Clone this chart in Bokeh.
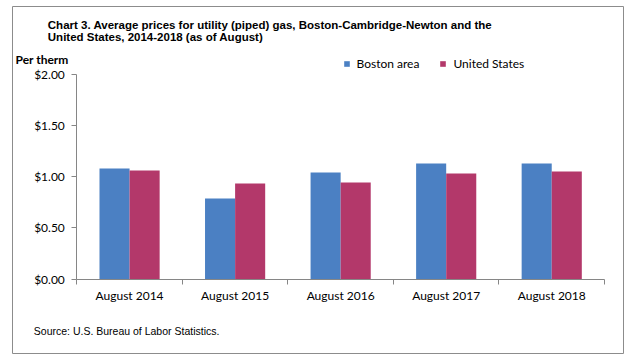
import numpy as np
from bokeh.plotting import figure
from bokeh.models import (Range1d, FixedTicker, NumeralTickFormatter, LinearAxis,
                          Label, Legend, LegendItem)
from bokeh.embed import file_html
from bokeh.resources import INLINE

# ---- data ----
categories = ["August 2014", "August 2015", "August 2016", "August 2017", "August 2018"]
series_names = ["Boston area", "United States"]
boston = [1.080, 0.787, 1.041, 1.129, 1.129]
united_states = [1.061, 0.934, 0.943, 1.031, 1.051]
y_ticks = [0.0, 0.5, 1.0, 1.5, 2.0]
y_max_value = 2.0

title_lines = ["Chart 3. Average prices for utility (piped) gas, Boston-Cambridge-Newton and the",
               "United States, 2014-2018 (as of August)"]
y_unit = "Per therm"
source = "Source: U.S. Bureau of Labor Statistics."

BLUE = "#4b80c3"
RED = "#b3386a"
AXIS = "#868686"
BORDER = "#8c8c8c"
FONT = "Lato"

n = len(categories)
centers = np.arange(n) + 0.5
bw = 0.285

# ---- layout (pixels, relative to the canvas) ----
W, H = 634, 355
FL, FT = 12, 6           # frame (outer chart box) left/top inside canvas
FW, FH = 611, 347        # frame size
# inner chart area inside frame (pixels from frame left / top)
AX_L, AX_R = 64.3, 592.0
AX_T, AX_B = 68.0, 272.5

xs = (AX_R - AX_L) / n
ys = (AX_B - AX_T) / y_max_value
x_range = Range1d(-AX_L / xs, n + (FW - AX_R) / xs)
y_range = Range1d(-(FH - AX_B) / ys, y_max_value + AX_T / ys)

p = figure(width=W, height=H, frame_width=FW, frame_height=FH,
           min_border_left=FL, min_border_top=FT,
           min_border_right=W - FL - FW, min_border_bottom=H - FT - FH,
           x_range=x_range, y_range=y_range,
           output_backend="svg", toolbar_location=None, x_axis_type=None, y_axis_type=None)
p.outline_line_color = BORDER
p.outline_line_width = 1
p.background_fill_color = "white"
p.border_fill_color = "white"
p.xgrid.visible = False
p.ygrid.visible = False

r1 = p.vbar(x=centers - bw / 2, top=boston, width=bw, fill_color=BLUE, line_color=None)
r2 = p.vbar(x=centers + bw / 2, top=united_states, width=bw, fill_color=RED, line_color=None)

# y axis
yax = LinearAxis(ticker=FixedTicker(ticks=y_ticks), formatter=NumeralTickFormatter(format="$0.00"),
                 fixed_location=0, bounds=(0, y_max_value))
yax.axis_line_color = AXIS
yax.major_tick_line_color = AXIS
yax.major_tick_out = 5
yax.major_tick_in = 0
yax.minor_tick_line_color = None
yax.major_label_standoff = 7
yax.major_label_text_font = FONT
yax.major_label_text_font_size = "12px"
yax.major_label_text_color = "black"
p.add_layout(yax, "left")

# x axis: boundary ticks as minor ticks, labels at centers
xax = LinearAxis(ticker=FixedTicker(ticks=list(centers), minor_ticks=list(np.arange(n + 1))),
                 fixed_location=0, bounds=(0, n))
xax.major_label_overrides = {float(c): cat for c, cat in zip(centers, categories)}
xax.axis_line_color = AXIS
xax.major_tick_line_color = None
xax.major_tick_out = 0
xax.major_tick_in = 0
xax.minor_tick_line_color = AXIS
xax.minor_tick_out = 5
xax.minor_tick_in = 0
xax.major_label_standoff = 4
xax.major_label_text_font = FONT
xax.major_label_text_font_size = "12px"
xax.major_label_text_color = "black"
p.add_layout(xax, "below")

# texts (screen units: from frame left, up from frame bottom)
def txt(x_left, baseline_from_top, text, font, size, bold=False):
    p.add_layout(Label(x=x_left, y=FH - baseline_from_top, x_units="screen", y_units="screen",
                       text=text, text_font=font, text_font_style="bold" if bold else "normal",
                       text_font_size=size, text_color="black", text_baseline="alphabetic"))

txt(35.3, 18.3, title_lines[0], "Liberation Sans", "11.5px", bold=True)
txt(35.3, 30.7, title_lines[1], "Liberation Sans", "11.5px", bold=True)
txt(3, 53.3, y_unit, FONT, "12px", bold=True)
txt(21.3, 324.7, source, "Liberation Sans", "10.5px")

legend = Legend(items=[LegendItem(label=series_names[0], renderers=[r1]),
                       LegendItem(label=series_names[1], renderers=[r2])],
                location=(330.5, FH - 65), orientation="horizontal")
legend.glyph_width = 7
legend.glyph_height = 7
legend.label_height = 14
legend.label_standoff = 7
legend.spacing = 20
legend.padding = 0
legend.margin = 0
legend.border_line_color = None
legend.background_fill_alpha = 0
legend.label_text_font = FONT
legend.label_text_font_size = "12px"
legend.label_text_color = "black"
p.add_layout(legend, "center")

html = file_html(p, INLINE)
open("out.html", "w").write(html)
